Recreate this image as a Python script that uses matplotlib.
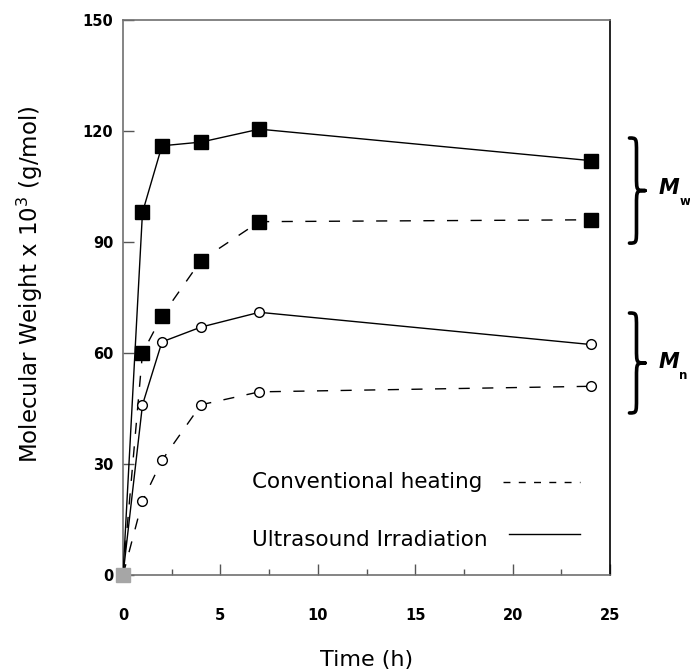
import numpy as np
import matplotlib
matplotlib.use("Agg")
import matplotlib.pyplot as plt
from matplotlib.path import Path
from matplotlib.patches import PathPatch

time = [0, 1, 2, 4, 7, 24]
mw_us = [0, 98, 116, 117, 120.5, 112]
mw_conv = [0, 60, 70, 85, 95.5, 96]
mn_us = [0, 46, 63, 67, 71, 62.3]
mn_conv = [0, 20, 31, 46, 49.5, 51]

legend_labels = ['Conventional heating', 'Ultrasound Irradiation']

plt.rcParams['font.family'] = ['DejaVu Sans']

fig = plt.figure(figsize=(6.9, 6.71), dpi=100)
ax = fig.add_axes([123 / 690, 1 - 575 / 671, 487 / 690, 555 / 671])

dash = (8, 9)
ax.plot(time, mw_us, '-', color='black', lw=1.0, marker='s', ms=10,
        mfc='black', mec='black', markevery=slice(1, None), zorder=3)
ax.plot(time, mw_conv, '--', color='black', lw=1.0, dashes=dash, marker='s', ms=10,
        mfc='black', mec='black', markevery=slice(1, None), zorder=3)
ax.plot(time, mn_us, '-', color='black', lw=1.0, marker='o', ms=7, mew=1.0,
        mfc='white', mec='black', markevery=slice(1, None), zorder=3)
ax.plot(time, mn_conv, '--', color='black', lw=1.0, dashes=dash, marker='o', ms=7, mew=1.0,
        mfc='white', mec='black', markevery=slice(1, None), zorder=3)
# shared origin point
ax.plot(time[:1], mw_us[:1], 's', ms=10, color='#a6a6a6', clip_on=False, zorder=5)

ax.set_xlim(0, 25)
ax.set_ylim(0, 150)
ax.set_xticks(np.arange(0, 26, 5))
ax.set_xticks(np.arange(2.5, 25, 5), minor=True)
ax.set_yticks(np.arange(0, 151, 30))
ax.tick_params(axis='both', which='major', direction='in', length=8, width=1,
               color='#555555', labelsize=10.5)
ax.tick_params(axis='x', which='minor', direction='in', length=4, width=1, color='#555555')
ax.tick_params(axis='x', which='major', pad=24)
ax.tick_params(axis='y', which='major', pad=7)
for lab in ax.get_xticklabels() + ax.get_yticklabels():
    lab.set_fontweight('bold')

for side in ['left', 'bottom', 'top']:
    ax.spines[side].set_color('#707070')
    ax.spines[side].set_linewidth(1.2)
ax.spines['right'].set_color('black')
ax.spines['right'].set_linewidth(1.2)

ax.set_xlabel('Time (h)', fontsize=16)
ax.xaxis.set_label_coords(0.5, -0.135)
ax.set_ylabel(r'Molecular Weight x 10$^3$ (g/mol)', fontsize=16.5)
ax.yaxis.set_label_coords(-0.16, 0.524)

# legend drawn by hand: text left-aligned, line samples right-aligned
tr = ax.transAxes
ax.text(0.265, 0.168, legend_labels[0], fontsize=15.5, ha='left', va='center', transform=tr)
ax.text(0.265, 0.063, legend_labels[1], fontsize=15.5, ha='left', va='center', transform=tr)
ax.plot([0.780, 0.938], [0.168, 0.168], color='black', lw=1.0, ls='--', dashes=(5, 6),
        transform=tr)
ax.plot([0.793, 0.938], [0.073, 0.073], color='black', lw=1.0, ls='-', transform=tr)


def brace(ax, x0, y0, y1, w, r):
    xs = x0 + w * 0.45
    xt = x0 + w
    ym = (y0 + y1) / 2
    verts = [(x0, y1), (xs, y1), (xs, y1), (xs, y1 - r),
             (xs, ym + r),
             (xs, ym), (xs, ym), (xt, ym),
             (xs, ym), (xs, ym), (xs, ym - r),
             (xs, y0 + r),
             (xs, y0), (xs, y0), (x0, y0)]
    codes = [Path.MOVETO, Path.CURVE4, Path.CURVE4, Path.CURVE4,
             Path.LINETO,
             Path.CURVE4, Path.CURVE4, Path.CURVE4,
             Path.CURVE4, Path.CURVE4, Path.CURVE4,
             Path.LINETO,
             Path.CURVE4, Path.CURVE4, Path.CURVE4]
    ax.add_patch(PathPatch(Path(verts, codes), fill=False, lw=2.6, color='black',
                           capstyle='round', joinstyle='round', clip_on=False))


brace(ax, 26.0, 89.7, 118.1, 0.8, 4)
brace(ax, 26.0, 43.8, 70.8, 0.8, 4)

for ym, sub in [(104.5, 'w'), (57.5, 'n')]:
    ax.text(27.5, ym, 'M', fontsize=15, fontweight='bold', fontstyle='italic',
            ha='left', va='center', clip_on=False)
    ax.text(28.55, ym - 3.6, sub, fontsize=8.5, fontweight='bold',
            ha='left', va='center', clip_on=False)

fig.savefig('out.png', dpi=100)
